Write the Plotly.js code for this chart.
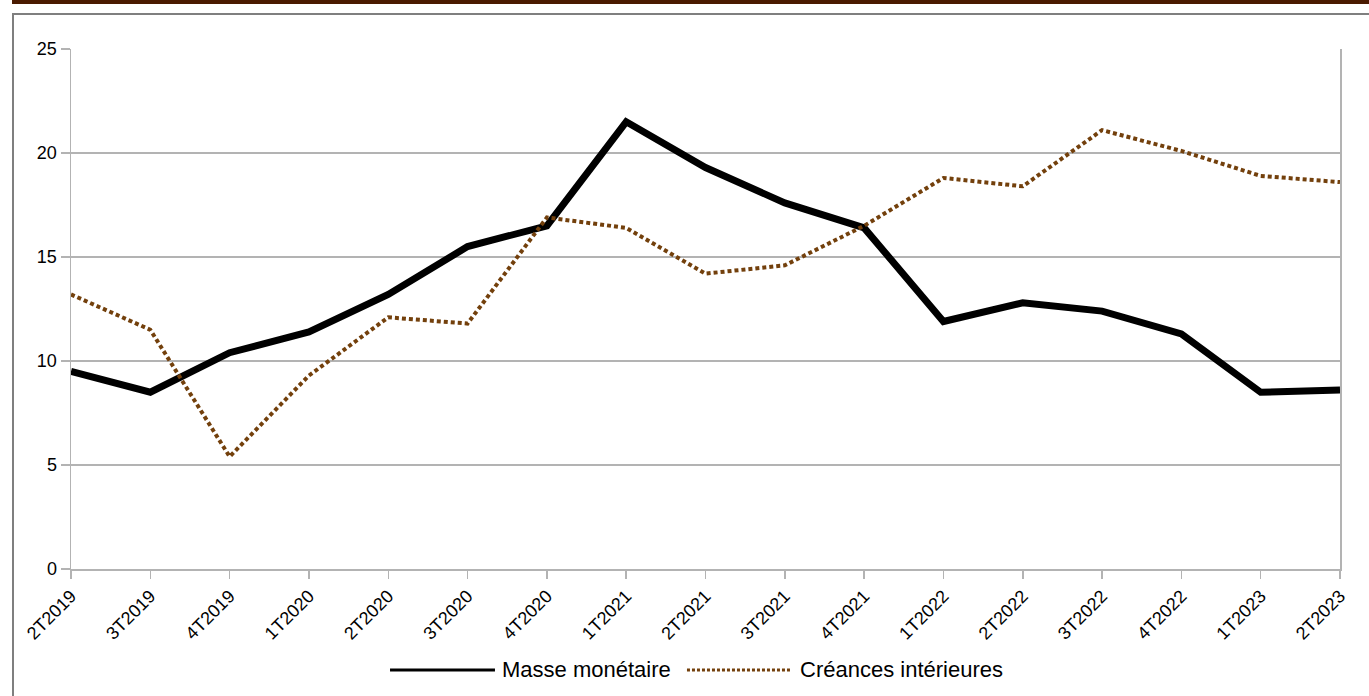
<!DOCTYPE html>
<html>
<head>
<meta charset="utf-8">
<script src="https://cdn.plot.ly/plotly-3.0.1.min.js"></script>
<style>
  html, body { margin: 0; padding: 0; width: 1369px; height: 696px; overflow: hidden; background: #ffffff; }
  #bar { position: absolute; left: 12px; top: 0; width: 1357px; height: 4px; background: #4a1a00; }
  #frame { position: absolute; left: 12px; top: 13px; width: 1357px; height: 683px; border-left: 2px solid #7f7f7f; border-top: 2px solid #7f7f7f; box-sizing: border-box; }
  #chart { position: absolute; left: 0; top: 0; width: 1369px; height: 696px; }
</style>
</head>
<body>
<div id="bar"></div>
<div id="frame"></div>
<div id="chart"></div>
<script>
const categories = ["2T2019","3T2019","4T2019","1T2020","2T2020","3T2020","4T2020","1T2021","2T2021","3T2021","4T2021","1T2022","2T2022","3T2022","4T2022","1T2023","2T2023"];
const masseMonetaire = [9.5, 8.5, 10.4, 11.4, 13.2, 15.5, 16.5, 21.5, 19.3, 17.6, 16.4, 11.9, 12.8, 12.4, 11.3, 8.5, 8.6];
const creancesInterieures = [13.2, 11.5, 5.4, 9.3, 12.1, 11.8, 16.9, 16.4, 14.2, 14.6, 16.5, 18.8, 18.4, 21.1, 20.1, 18.9, 18.6];
const seriesNames = ["Masse monétaire", "Créances intérieures"];
const yTicks = [0, 5, 10, 15, 20, 25];

const styleBlack = { color: "#000000", width: 7 };
const styleBrown = { color: "#73400c", width: 4, dash: "4px,3px" };

const traces = [
  { x: categories, y: masseMonetaire, type: "scatter", mode: "lines", name: seriesNames[0], line: styleBlack },
  { x: categories, y: creancesInterieures, type: "scatter", mode: "lines", name: seriesNames[1], line: styleBrown }
];

// custom legend (long sample lines as in the reference)
const legY = -0.1942;
const legendShapes = [
  { type: "line", xref: "paper", yref: "paper", x0: 0.2514, x1: 0.3341, y0: legY, y1: legY,
    line: { color: "#000000", width: 3 } },
  { type: "line", xref: "paper", yref: "paper", x0: 0.4854, x1: 0.5666, y0: legY, y1: legY,
    line: { color: "#73400c", width: 3, dash: "3px,2px" } }
];
const legendAnnotations = [
  { xref: "paper", yref: "paper", x: 0.3380, y: legY, xanchor: "left", yanchor: "middle",
    text: seriesNames[0], showarrow: false, font: { size: 22 } },
  { xref: "paper", yref: "paper", x: 0.5730, y: legY, xanchor: "left", yanchor: "middle",
    text: seriesNames[1], showarrow: false, font: { size: 22 } }
];

const layout = {
  width: 1369, height: 696,
  paper_bgcolor: "rgba(0,0,0,0)", plot_bgcolor: "rgba(0,0,0,0)",
  margin: { l: 71, r: 29, t: 49, b: 127 },
  font: { family: "Liberation Sans, Arial, sans-serif", color: "#000000", size: 18 },
  showlegend: false,
  shapes: legendShapes,
  annotations: legendAnnotations,
  xaxis: {
    type: "category", range: [0, categories.length - 1],
    tickangle: -45, ticks: "outside", ticklen: 8, tickcolor: "#b3b3b3", tickwidth: 1.5,
    showgrid: false, showline: true, linecolor: "#b3b3b3", linewidth: 1.5, mirror: false,
    tickfont: { size: 18 }, zeroline: false, automargin: false
  },
  yaxis: {
    range: [0, 25], tickvals: yTicks, ticktext: yTicks.map(String),
    ticks: "outside", ticklen: 9, tickcolor: "#b3b3b3", tickwidth: 1.5,
    showgrid: true, gridcolor: "#b3b3b3", gridwidth: 1.5,
    showline: true, linecolor: "#b3b3b3", linewidth: 1.5, mirror: true,
    tickfont: { size: 18 }, zeroline: false, automargin: false
  }
};

Plotly.newPlot("chart", traces, layout, { displayModeBar: false, staticPlot: true });
</script>
</body>
</html>
